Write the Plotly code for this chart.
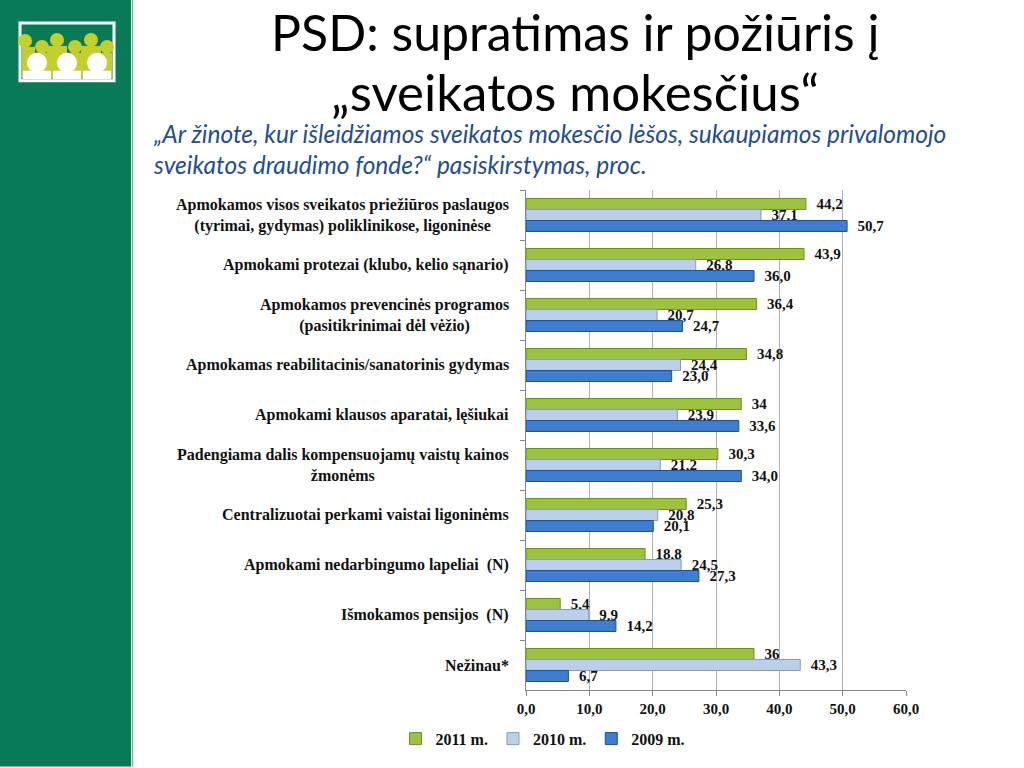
import plotly.graph_objects as go

categories = [
    "Apmokamos visos sveikatos priežiūros paslaugos<br>(tyrimai, gydymas) poliklinikose, ligoninėse",
    "Apmokami protezai (klubo, kelio sąnario)",
    "Apmokamos prevencinės programos<br>(pasitikrinimai dėl vėžio)",
    "Apmokamas reabilitacinis/sanatorinis gydymas",
    "Apmokami klausos aparatai, lęšiukai",
    "Padengiama dalis kompensuojamų vaistų kainos<br>žmonėms",
    "Centralizuotai perkami vaistai ligoninėms",
    "Apmokami nedarbingumo lapeliai  (N)",
    "Išmokamos pensijos  (N)",
    "Nežinau*",
]
values_2011 = [44.2, 43.9, 36.4, 34.8, 34, 30.3, 25.3, 18.8, 5.4, 36]
values_2010 = [37.1, 26.8, 20.7, 24.4, 23.9, 21.2, 20.8, 24.5, 9.9, 43.3]
values_2009 = [50.7, 36.0, 24.7, 23.0, 33.6, 34.0, 20.1, 27.3, 14.2, 6.7]
series_names = ["2011 m.", "2010 m.", "2009 m."]
tick_vals = [0, 10, 20, 30, 40, 50, 60]
tick_text = ["0,0", "10,0", "20,0", "30,0", "40,0", "50,0", "60,0"]

title_line1 = "PSD: supratimas ir požiūris į"
title_line2 = "„sveikatos mokesčius“"
subtitle_line1 = "„Ar žinote, kur išleidžiamos sveikatos mokesčio lėšos, sukaupiamos privalomojo"
subtitle_line2 = "sveikatos draudimo fonde?“ pasiskirstymas, proc."


def fmt_general(v):
    s = ("%g" % v)
    return s.replace(".", ",")


def fmt_one(v):
    return ("%.1f" % v).replace(".", ",")


W, H = 1024, 768
L, R, T, B = 526, 906, 190, 693


def px(x):
    return (x - L) / (R - L)


def py(y):
    return (B - y) / (B - T)


SERIF = "Liberation Serif"
fills = ["#9CC23E", "#BBD0E8", "#3F7ECF"]
edges = ["#6E8F22", "#7F9DC2", "#1F4F8E"]
texts = [
    [fmt_general(v) for v in values_2011],
    [fmt_one(v) for v in values_2010],
    [fmt_one(v) for v in values_2009],
]
all_values = [values_2011, values_2010, values_2009]

fig = go.Figure()
for i in range(3):
    fig.add_trace(go.Bar(
        y=categories, x=all_values[i], orientation="h", name="<b>" + series_names[i] + "</b>",
        marker=dict(color=fills[i], line=dict(color=edges[i], width=1)),
        text=["\u00a0\u00a0<b>" + t + "</b>" for t in texts[i]], textposition="outside",
        constraintext="none", cliponaxis=False,
        textfont=dict(family=SERIF, size=15, color="#111111"),
        hoverinfo="skip",
    ))

shapes = []
# left green sidebar
shapes.append(dict(type="rect", xref="paper", yref="paper", x0=px(-2), x1=px(131),
                   y0=py(H + 2), y1=py(-2), fillcolor="#087A57", line=dict(width=0), layer="below"))
shapes.append(dict(type="line", xref="paper", yref="paper", x0=px(132.5), x1=px(132.5),
                   y0=py(H + 2), y1=py(-2), line=dict(color="#6DB89C", width=1.5), layer="below"))
# logo
shapes.append(dict(type="rect", xref="paper", yref="paper", x0=px(20), x1=px(114),
                   y0=py(80), y1=py(22), fillcolor="#087A57", line=dict(color="white", width=3)))
for cx, cy in [(25, 40), (42, 46), (57, 39), (75, 46), (91, 39), (107, 46)]:
    shapes.append(dict(type="circle", xref="paper", yref="paper", x0=px(cx - 7), x1=px(cx + 7),
                       y0=py(cy + 7), y1=py(cy - 7), fillcolor="#C3CF2D", line=dict(width=0)))
    shapes.append(dict(type="rect", xref="paper", yref="paper", x0=px(max(cx - 10, 22)), x1=px(min(cx + 10, 112)),
                       y0=py(78), y1=py(cy + 6), fillcolor="#C3CF2D", line=dict(width=0)))
for cx in [37, 67, 97]:
    shapes.append(dict(type="circle", xref="paper", yref="paper", x0=px(cx - 10), x1=px(cx + 10),
                       y0=py(72), y1=py(52), fillcolor="white", line=dict(width=0)))
    shapes.append(dict(type="rect", xref="paper", yref="paper", x0=px(cx - 14), x1=px(cx + 14),
                       y0=py(78.5), y1=py(70), fillcolor="white", line=dict(width=0)))

annotations = []
for c in categories:
    annotations.append(dict(xref="paper", yref="y", x=px(511), y=c, text="<b>" + c + "</b>",
                            xanchor="right", yanchor="middle", align="center", showarrow=False,
                            font=dict(family=SERIF, size=16, color="#111111")))
annotations.append(dict(xref="paper", yref="paper", x=px(575), y=py(0), text=title_line1,
                        xanchor="center", yanchor="top", showarrow=False, borderpad=0,
                        font=dict(family="Lato", size=50, color="#000000")))
annotations.append(dict(xref="paper", yref="paper", x=px(575), y=py(91), text=title_line2,
                        xanchor="center", yanchor="middle", showarrow=False,
                        font=dict(family="Lato", size=51, color="#000000")))
annotations.append(dict(xref="paper", yref="paper", x=px(151), y=py(133), text="<i>" + subtitle_line1 + "</i>",
                        xanchor="left", yanchor="middle", showarrow=False,
                        font=dict(family="Lato", size=24.5, color="#1F4E8F")))
annotations.append(dict(xref="paper", yref="paper", x=px(151), y=py(164), text="<i>" + subtitle_line2 + "</i>",
                        xanchor="left", yanchor="middle", showarrow=False,
                        font=dict(family="Lato", size=24.5, color="#1F4E8F")))

fig.update_layout(
    width=W, height=H,
    margin=dict(l=L, r=W - R, t=T, b=H - B, pad=0),
    paper_bgcolor="white", plot_bgcolor="white",
    barmode="group", bargap=0.34, bargroupgap=0,
    shapes=shapes, annotations=annotations,
    showlegend=True,
    legend=dict(orientation="h", x=px(543), y=py(742), xanchor="center", yanchor="middle",
                font=dict(family=SERIF, size=16, color="#111111"), traceorder="normal",
                itemwidth=30, bgcolor="rgba(0,0,0,0)"),
    font=dict(family=SERIF, color="#111111"),
)
fig.update_xaxes(range=[0, 60], tickvals=tick_vals, ticktext=["<b>" + t + "</b>" for t in tick_text],
                 showgrid=True, gridcolor="#B0B0B0", gridwidth=1, zeroline=False,
                 showline=True, linecolor="#868686", linewidth=1,
                 ticks="outside", ticklen=5, tickcolor="#868686",
                 tickfont=dict(family=SERIF, size=15, color="#111111"))
fig.update_yaxes(type="category", autorange="reversed", showticklabels=False,
                 showline=True, linecolor="#868686", linewidth=1,
                 ticks="outside", ticklen=5, tickcolor="#868686", tickson="boundaries",
                 showgrid=False)

fig.write_html("out.html", config={"displayModeBar": False},
               post_script="document.body.style.margin='0px';document.body.style.overflow='hidden';")
